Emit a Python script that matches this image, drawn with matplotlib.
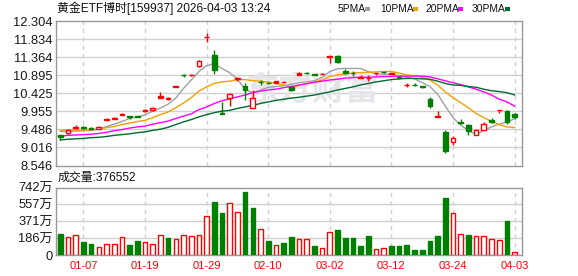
import matplotlib
matplotlib.use('Agg')
import matplotlib.pyplot as plt
from matplotlib.patches import Rectangle

plt.rcParams['font.family'] = ['Liberation Sans', 'Noto Sans CJK SC']

# daily bars, 2025-12-31 .. 2026-04-03
opens = [9.33, 9.40, 9.51, 9.56, 9.53, 9.50, 9.74, 9.76, 9.85, 9.83,
         9.83, 9.97, 9.99, 10.30, 10.27, 10.59, 10.90, 10.89, 11.14, 11.88,
         11.42, 9.91, 10.31, 10.79, 10.61, 10.05, 10.72, 10.70, 10.70, 10.71,
         10.59, 10.91, 10.96, 10.92, 10.92, 11.37, 11.40, 11.01, 10.95, 10.83,
         10.81, 10.945, 10.975, 10.93, 10.85, 10.63, 10.65, 10.61, 10.27, 9.82,
         9.43, 9.15, 9.69, 9.61, 9.35, 9.48, 9.73, 9.98, 9.96, 9.88]
highs = [9.35, 9.50, 9.59, 9.58, 9.54, 9.58, 9.78, 9.80, 9.90, 9.84,
         9.84, 10.01, 10.06, 10.45, 10.32, 10.62, 10.93, 10.92, 11.28, 11.99,
         11.54, 10.20, 10.44, 10.84, 10.70, 10.51, 10.77, 10.72, 10.75, 10.74,
         10.62, 10.97, 10.98, 10.93, 10.94, 11.40, 11.41, 11.06, 11.01, 10.90,
         10.90, 10.96, 10.98, 10.95, 10.88, 10.68, 10.70, 10.61, 10.32, 9.97,
         9.48, 9.31, 9.75, 9.63, 9.50, 9.67, 9.79, 10.00, 9.98, 9.90]
lows = [9.22, 9.37, 9.50, 9.50, 9.48, 9.49, 9.73, 9.75, 9.85, 9.76,
        9.81, 9.95, 9.96, 10.29, 10.24, 10.58, 10.86, 10.87, 11.12, 11.77,
        10.92, 9.88, 10.09, 10.75, 10.26, 10.05, 10.63, 10.67, 10.69, 10.69,
        10.49, 10.89, 10.93, 10.90, 10.92, 11.22, 11.21, 10.93, 10.87, 10.81,
        10.75, 10.91, 10.96, 10.92, 10.79, 10.59, 10.62, 10.57, 10.05, 9.82,
        8.87, 9.07, 9.62, 9.34, 9.34, 9.48, 9.66, 9.90, 9.63, 9.76]
closes = [9.30, 9.47, 9.56, 9.51, 9.49, 9.56, 9.76, 9.79, 9.89, 9.82,
          9.815, 9.99, 10.05, 10.35, 10.31, 10.61, 10.89, 10.90, 11.26, 11.89,
          11.03, 9.89, 10.40, 10.82, 10.51, 10.31, 10.71, 10.69, 10.74, 10.72,
          10.52, 10.94, 10.95, 10.91, 10.93, 11.40, 11.25, 10.95, 10.94, 10.84,
          10.83, 10.955, 10.965, 10.94, 10.83, 10.65, 10.64, 10.60, 10.10, 9.83,
          8.92, 9.25, 9.66, 9.44, 9.46, 9.63, 9.67, 10.00, 9.69, 9.80]
prev_close = 9.35

# volume in 万
volumes = [229, 193, 215, 142, 120, 84, 116, 116, 193, 105,
           153, 138, 116, 225, 182, 171, 225, 204, 215, 433,
           589, 458, 575, 476, 698, 513, 291, 153, 105, 131,
           196, 171, 171, 98, 73, 258, 273, 185, 185, 98,
           207, 62, 73, 98, 98, 109, 55, 55, 153, 207,
           633, 458, 236, 218, 204, 204, 171, 160, 371, 37.66]

ma5 = [9.43, 9.43, 9.44, 9.45, 9.46, 9.50, 9.56, 9.62, 9.69, 9.77,
       9.81, 9.86, 9.96, 10.04, 10.14, 10.30, 10.55, 10.77, 10.99, 11.14,
       11.20, 11.07, 10.96, 10.79, 10.53, 10.44, 10.51, 10.58, 10.60, 10.62,
       10.66, 10.70, 10.72, 10.75, 10.84, 10.99, 11.06, 11.07, 11.07, 11.07,
       10.99, 10.93, 10.92, 10.92, 10.88, 10.84, 10.80, 10.70, 10.60, 10.40,
       10.09, 9.79, 9.59, 9.46, 9.35, 9.46, 9.55, 9.62, 9.68, 9.76]
ma10 = [9.46, 9.47, 9.47, 9.47, 9.47, 9.49, 9.53, 9.56, 9.61, 9.65,
        9.69, 9.72, 9.79, 9.87, 9.94, 10.05, 10.17, 10.31, 10.48, 10.59,
        10.68, 10.72, 10.74, 10.78, 10.78, 10.75, 10.74, 10.72, 10.68, 10.64,
        10.58, 10.63, 10.68, 10.72, 10.77, 10.86, 10.90, 10.93, 10.95, 10.96,
        10.97, 10.98, 10.99, 10.99, 10.95, 10.90, 10.88, 10.84, 10.77, 10.64,
        10.46, 10.31, 10.18, 10.05, 9.90, 9.79, 9.69, 9.61, 9.55, 9.53]
ma20 = [9.31, 9.33, 9.34, 9.35, 9.36, 9.38, 9.41, 9.45, 9.48, 9.52,
        9.55, 9.57, 9.62, 9.66, 9.70, 9.77, 9.83, 9.89, 10.00, 10.07,
        10.16, 10.23, 10.28, 10.33, 10.38, 10.44, 10.48, 10.51, 10.53, 10.57,
        10.60, 10.64, 10.67, 10.71, 10.74, 10.77, 10.79, 10.82, 10.83, 10.84,
        10.84, 10.85, 10.86, 10.86, 10.87, 10.87, 10.87, 10.87, 10.85, 10.80,
        10.75, 10.70, 10.65, 10.59, 10.53, 10.46, 10.38, 10.27, 10.20, 10.09]
ma30 = [9.21, 9.23, 9.24, 9.25, 9.27, 9.28, 9.30, 9.33, 9.35, 9.37,
        9.40, 9.42, 9.46, 9.49, 9.54, 9.61, 9.68, 9.74, 9.81, 9.87,
        9.92, 9.96, 9.98, 10.03, 10.07, 10.11, 10.16, 10.20, 10.24, 10.27,
        10.30, 10.32, 10.35, 10.38, 10.42, 10.46, 10.51, 10.55, 10.59, 10.64,
        10.68, 10.72, 10.75, 10.78, 10.80, 10.81, 10.81, 10.80, 10.79, 10.74,
        10.68, 10.64, 10.63, 10.60, 10.58, 10.53, 10.49, 10.47, 10.44, 10.38]

tick_pos = [3, 11, 19, 27, 35, 43, 51, 59]
tick_labels = ['01-07', '01-19', '01-29', '02-10', '03-02', '03-12', '03-24', '04-03']
price_ticks = ['12.304', '11.834', '11.364', '10.895', '10.425', '9.955', '9.486', '9.016', '8.546']
vol_ticks = [742, 557, 371, 186, 0]
vol_tick_labels = ['742万', '557万', '371万', '186万', '0']

RED = '#ff0000'
GREEN = '#008000'
FRAME = '#999999'
GRID = '#d0d0d0'
W = 578.0
H = 276.0

fig = plt.figure(figsize=(5.78, 2.76), dpi=100)
ax = fig.add_axes([56 / W, 1 - 165.5 / H, 466 / W, 144.5 / H])
axv = fig.add_axes([56 / W, 1 - 255 / H, 466 / W, 67.3 / H])

n = len(closes)
xs = list(range(n))
for a in (ax, axv):
    a.set_xlim(-0.56, 59.96)
    for s in a.spines.values():
        s.set_color(FRAME)
        s.set_linewidth(1)
    for p in tick_pos:
        a.axvline(p, color=GRID, lw=1, ls=(0, (3, 3)), zorder=0)
    a.tick_params(length=0, labelsize=9.3, colors='#1a1a1a', pad=2.5)

# price panel
pvals = [float(t) for t in price_ticks]
ax.set_ylim(min(pvals), max(pvals))
ax.set_yticks(pvals, price_ticks)
for v in pvals[1:-1]:
    ax.axhline(v, color=GRID, lw=1, zorder=0)
ax.set_xticks([])

ax.text(0.549, 0.516, '东方财富', transform=ax.transAxes, ha='center', va='center',
        fontsize=24, fontweight='bold', color='#e6e6ea', family=['Noto Sans CJK SC'],
        zorder=0.5)

for x, o, h, l, c in zip(xs, opens, highs, lows, closes):
    up = c >= o
    col = RED if up else GREEN
    top = max(o, c)
    bot = min(o, c)
    ax.vlines(x, top, h, color=col, lw=1, zorder=3)
    ax.vlines(x, l, bot, color=col, lw=1, zorder=3)
    ax.bar(x, max(top - bot, 0.004), bottom=bot, width=0.62,
           facecolor='white' if up and top - bot > 0.06 else col,
           edgecolor=col, lw=1, zorder=4)

ax.plot(xs, ma5, color='#a0a0a0', lw=1, zorder=2)
ax.plot(xs, ma10, color='#f0a000', lw=1, zorder=2)
ax.plot(xs, ma20, color='#ff00ff', lw=1, zorder=2)
ax.plot(xs, ma30, color='#006a30', lw=1, zorder=2)

# volume panel
axv.set_ylim(0, vol_ticks[0])
axv.set_yticks(vol_ticks, vol_tick_labels)
for v in vol_ticks[1:-1]:
    axv.axhline(v, color=GRID, lw=1, zorder=0)
prev = [prev_close] + closes[:-1]
for x, v, c, p in zip(xs, volumes, closes, prev):
    if c >= p:
        axv.bar(x, v, width=0.6, facecolor='white', edgecolor=RED, lw=1, zorder=3)
    else:
        axv.bar(x, v, width=0.6, facecolor=GREEN, edgecolor=GREEN, lw=1, zorder=3)
axv.set_xticks(tick_pos, tick_labels)
axv.tick_params(axis='x', colors=RED, labelsize=8, pad=4.5)

# header texts
fig.text(57 / W, 1 - 8 / H, '黄金ETF博时[159937] 2026-04-03 13:24', fontsize=8.6,
         va='center', ha='left', color='#111111')
legend = [('5PMA', '#a0a0a0', 338, 365), ('10PMA', '#f0a000', 380, 413),
          ('20PMA', '#ff00ff', 425, 458), ('30PMA', '#006a30', 472, 505)]
for name, col, tx, sx in legend:
    fig.text(tx / W, 1 - 9 / H, name, fontsize=7.4, va='center', ha='left', color='#111111')
    fig.patches.append(Rectangle((sx / W, 1 - 11 / H), 5 / W, 4 / H, transform=fig.transFigure,
                                 facecolor=col, edgecolor='none'))
fig.text(58 / W, 1 - 178 / H, '成交量:376552', fontsize=8.6, va='center', ha='left',
         color='#111111')

fig.savefig('out.png', dpi=100)
